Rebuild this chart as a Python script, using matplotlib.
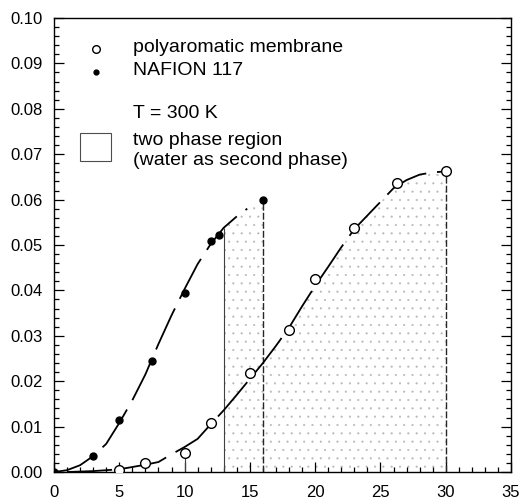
import numpy as np
import matplotlib
matplotlib.use("Agg")
import matplotlib.pyplot as plt
from matplotlib.ticker import MultipleLocator, FormatStrFormatter
from matplotlib.patches import Rectangle

plt.rcParams['font.family'] = ['Liberation Sans', 'DejaVu Sans']
plt.rcParams['hatch.linewidth'] = 0.3

# ==== data ====
# measured points
nafion_x = [0, 3, 5, 7.5, 10, 12, 12.6, 16]
nafion_y = [0.0, 0.0035, 0.0115, 0.0244, 0.0395, 0.0508, 0.0522, 0.0600]
poly_x = [5, 7, 10, 12, 15, 18, 20, 23, 26.3, 30]
poly_y = [0.0004, 0.0020, 0.0042, 0.0109, 0.0219, 0.0313, 0.0425, 0.0538, 0.0636, 0.0662]

# fitted curves (dashed)
nafion_fit_x = [0, 1, 2, 3, 4, 5, 6, 7, 8, 9, 10, 11, 12, 13, 14, 14.8]
nafion_fit_y = [0.0, 0.0004, 0.0015, 0.0035, 0.0062, 0.0108, 0.0158, 0.0215,
                0.0282, 0.0345, 0.0403, 0.0458, 0.0502, 0.0538, 0.0563, 0.0580]
poly_fit_x = [1, 3, 5, 7, 8, 9, 10, 11, 12, 13, 14, 15, 16, 17, 18, 19, 20,
              21, 22, 23, 24, 25, 26, 27, 28, 29, 30]
poly_fit_y = [0.0, 0.0002, 0.0006, 0.0016, 0.0022, 0.0039, 0.0055, 0.0073,
              0.0105, 0.0136, 0.0170, 0.0205, 0.0240, 0.0278, 0.0318, 0.0365,
              0.0410, 0.0452, 0.0495, 0.0535, 0.0565, 0.0595, 0.0625, 0.0643,
              0.0655, 0.0660, 0.0662]

# upper edge of the two phase region between 13 and 16 (NAFION side)
region_naf_x = [13, 14, 14.8, 16]
region_naf_y = [0.0538, 0.0563, 0.0580, 0.0600]

# vertical boundary lines: x, top
vlines_x = [10, 13, 16, 30]
vlines_top = [0.0042, 0.0538, 0.0600, 0.0662]

# ==== figure ====
fig = plt.figure(figsize=(5.22, 4.98), dpi=100)
ax = fig.add_axes([0.1034, 0.0522, 0.8756, 0.9117])

# two phase region (stippled)
px = np.array(poly_fit_x)
py = np.array(poly_fit_y)
sel = px >= 16
reg_x = [13] + region_naf_x + list(px[sel]) + [30]
reg_y = [0] + region_naf_y + list(py[sel]) + [0]
ax.fill(reg_x, reg_y, facecolor='none', edgecolor='0.72', hatch='..',
        linewidth=0, zorder=1)

# vertical lines
ax.vlines(vlines_x[:2], 0, vlines_top[:2], colors='0.25', linewidth=0.8, zorder=2)
ax.vlines(vlines_x[2:], 0, vlines_top[2:], colors='0.15', linewidth=1.0,
          linestyles=(0, (5, 1.5)), zorder=2)

# fitted curves
ax.plot(nafion_fit_x, nafion_fit_y, color='black', linewidth=1.3,
        linestyle=(0, (25, 6)), zorder=3)
ax.plot(poly_fit_x, poly_fit_y, color='black', linewidth=1.3,
        linestyle=(0, (25, 6)), zorder=3)

# points
ax.plot(nafion_x, nafion_y, 'o', color='black', markersize=5, zorder=4)
ax.plot(poly_x, poly_y, 'o', markerfacecolor='white', markeredgecolor='black',
        markeredgewidth=1.0, markersize=7, zorder=4)

ax.set_xlim(0, 35)
ax.set_ylim(0, 0.10)
ax.xaxis.set_major_locator(MultipleLocator(5))
ax.xaxis.set_minor_locator(MultipleLocator(1))
ax.yaxis.set_major_locator(MultipleLocator(0.01))
ax.yaxis.set_minor_locator(MultipleLocator(0.002))
ax.yaxis.set_major_formatter(FormatStrFormatter('%.2f'))
ax.tick_params(which='both', direction='in', top=False, right=True,
               labelsize=12, width=0.9)
ax.tick_params(which='major', length=7)
ax.tick_params(which='minor', length=3.5)
ax.tick_params(axis='x', which='major', pad=9)
ax.tick_params(axis='y', which='major', pad=8)
for s in ax.spines.values():
    s.set_linewidth(1.0)

# legend drawn by hand
t = ax.transAxes
fs = 14
ax.plot([0.092], [0.932], 'o', transform=t, markerfacecolor='white',
        markeredgecolor='black', markersize=5.5, clip_on=False)
ax.plot([0.092], [0.880], 'o', transform=t, color='black', markersize=3.5,
        clip_on=False)
ax.text(0.173, 0.934, 'polyaromatic membrane', transform=t, fontsize=fs, va='center')
ax.text(0.173, 0.885, 'NAFION 117', transform=t, fontsize=fs, va='center')
ax.text(0.173, 0.790, 'T = 300 K', transform=t, fontsize=fs, va='center')
ax.add_patch(Rectangle((0.057, 0.685), 0.068, 0.062, transform=t,
                       facecolor='white', edgecolor='0.3', linewidth=0.8))
ax.text(0.173, 0.731, 'two phase region', transform=t, fontsize=fs, va='center')
ax.text(0.173, 0.685, '(water as second phase)', transform=t, fontsize=fs, va='center')

fig.savefig('out.png', dpi=100)
